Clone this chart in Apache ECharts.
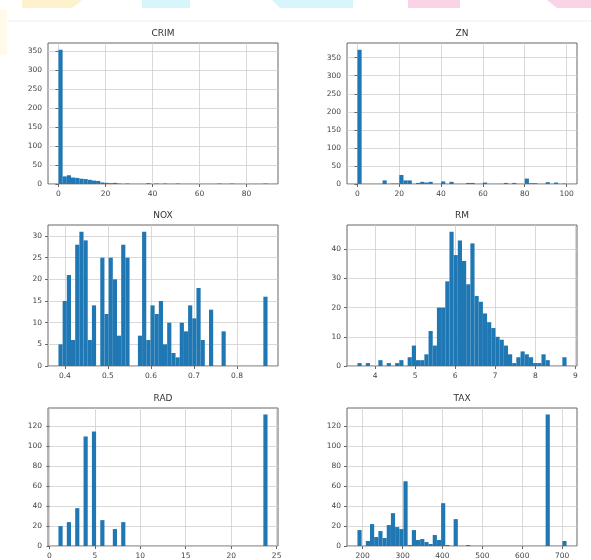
<!DOCTYPE html>
<html>
<head>
<meta charset="utf-8">
<script src="https://cdn.jsdelivr.net/npm/echarts@6/dist/echarts.min.js"></script>
<style>
  html, body { margin: 0; padding: 0; background: #fff; }
  #chart { width: 591px; height: 560px; }
</style>
</head>
<body>
<div id="chart"></div>
<script>
// panel names, in grid order (row by row)
const titles = ['CRIM', 'ZN', 'NOX', 'RM', 'RAD', 'TAX'];

// data min / max of each column (bins are 50 equal steps between them)
const crimRange = [0.00632, 88.9762];
const znRange = [0, 100];
const noxRange = [0.385, 0.871];
const rmRange = [3.561, 8.78];
const radRange = [1, 24];
const taxRange = [187, 711];

// bin counts, 50 bins each
const crimCounts = [353, 20, 23, 17, 16, 14, 13, 11, 9, 8, 4, 3, 2, 3, 1, 0, 1, 0, 0, 0,
  0, 2, 0, 1, 0, 1, 0, 0, 1, 0, 0, 0, 0, 0, 0, 0, 0, 0, 1, 0, 0, 1, 0, 0, 0, 0, 0, 0, 0, 1];
const znCounts = [372, 0, 0, 0, 0, 0, 10, 0, 1, 1, 25, 10, 10, 0, 3, 6, 4, 6, 0, 0,
  7, 0, 6, 0, 0, 0, 3, 3, 0, 0, 4, 0, 0, 0, 0, 3, 0, 3, 0, 0, 15, 2, 2, 0, 0, 5, 0, 4, 0, 1];
const noxCounts = [5, 15, 21, 6, 28, 31, 29, 6, 14, 0, 25, 12, 25, 20, 7, 28, 25, 0, 0, 7,
  31, 6, 14, 12, 15, 5, 10, 3, 2, 10, 8, 14, 11, 18, 6, 0, 13, 0, 0, 8, 0, 0, 0, 0, 0, 0, 0, 0, 0, 16];
const rmCounts = [1, 0, 1, 0, 0, 2, 0, 1, 0, 1, 2, 0, 3, 7, 2, 2, 4, 12, 7, 20,
  20, 29, 46, 38, 43, 36, 28, 42, 24, 22, 18, 15, 13, 10, 9, 7, 4, 1, 3, 5, 4, 3, 1, 1, 4, 2, 0, 0, 0, 3];
const radCounts = [20, 0, 24, 0, 38, 0, 110, 0, 115, 0, 26, 0, 0, 17, 0, 24, 0, 0, 0, 0,
  0, 0, 0, 0, 0, 0, 0, 0, 0, 0, 0, 0, 0, 0, 0, 0, 0, 0, 0, 0, 0, 0, 0, 0, 0, 0, 0, 0, 0, 132];
const taxCounts = [16, 0, 5, 22, 9, 15, 8, 21, 33, 19, 17, 65, 1, 16, 6, 7, 4, 2, 11, 6,
  43, 1, 0, 27, 0, 0, 1, 0, 0, 0, 0, 0, 0, 0, 0, 0, 0, 0, 0, 0, 0, 0, 0, 0, 0, 132, 0, 0, 0, 5];

// tick labels
const crimXTicks = [0, 20, 40, 60, 80];
const znXTicks = [0, 20, 40, 60, 80, 100];
const noxXTicks = [0.4, 0.5, 0.6, 0.7, 0.8];
const rmXTicks = [4, 5, 6, 7, 8, 9];
const radXTicks = [0, 5, 10, 15, 20, 25];
const taxXTicks = [200, 300, 400, 500, 600, 700];
const crimYTicks = [0, 50, 100, 150, 200, 250, 300, 350];
const znYTicks = [0, 50, 100, 150, 200, 250, 300, 350];
const noxYTicks = [0, 5, 10, 15, 20, 25, 30];
const rmYTicks = [0, 10, 20, 30, 40];
const radYTicks = [0, 20, 40, 60, 80, 100, 120];
const taxYTicks = [0, 20, 40, 60, 80, 100, 120];

const panels = [
  [crimRange, crimCounts, crimXTicks, crimYTicks],
  [znRange, znCounts, znXTicks, znYTicks],
  [noxRange, noxCounts, noxXTicks, noxYTicks],
  [rmRange, rmCounts, rmXTicks, rmYTicks],
  [radRange, radCounts, radXTicks, radYTicks],
  [taxRange, taxCounts, taxXTicks, taxYTicks]
];

const lefts = [48, 347];
const tops = [43, 225, 408];
const W = 230, H = 141;
const FONT = 'DejaVu Sans';

const grid = [], xAxis = [], yAxis = [], series = [], title = [];

panels.forEach(([range, counts, xt, yt], i) => {
  const left = lefts[i % 2], top = tops[Math.floor(i / 2)];
  const span = range[1] - range[0];
  const step = span / counts.length;

  grid.push({ left, top, width: W, height: H, show: true, borderColor: '#666', borderWidth: 1 });
  title.push({
    text: titles[i], left: left + W / 2, top: top - 14, textAlign: 'center', padding: 0,
    textStyle: { fontFamily: FONT, fontSize: 9, fontWeight: 'normal', color: '#333' }
  });

  xAxis.push({
    type: 'value', gridIndex: i,
    min: range[0] - span * 0.05, max: range[1] + span * 0.05,
    axisLine: { show: false },
    axisTick: { show: true, length: 3, customValues: xt, lineStyle: { color: '#666' } },
    axisLabel: { customValues: xt, margin: 6, fontFamily: FONT, fontSize: 7.5, color: '#444' },
    splitLine: { show: true, lineStyle: { color: '#cfcfcf', width: 0.8 } }
  });
  yAxis.push({
    type: 'value', gridIndex: i,
    min: 0, max: Math.max(...counts) * 1.05,
    axisLine: { show: false },
    axisTick: { show: true, length: 3, customValues: yt, lineStyle: { color: '#666' } },
    axisLabel: { customValues: yt, margin: 6, fontFamily: FONT, fontSize: 7.5, color: '#444' },
    splitLine: { show: true, lineStyle: { color: '#cfcfcf', width: 0.8 } }
  });

  series.push({
    type: 'custom', xAxisIndex: i, yAxisIndex: i,
    encode: { x: [0, 1], y: 2 },
    data: counts.map((c, k) => [range[0] + k * step, range[0] + (k + 1) * step, c]),
    renderItem: (params, api) => {
      if (!api.value(2)) return null;
      const p0 = api.coord([api.value(0), api.value(2)]);
      const p1 = api.coord([api.value(1), 0]);
      return {
        type: 'rect',
        shape: { x: p0[0], y: p0[1], width: p1[0] - p0[0], height: p1[1] - p0[1] },
        style: { fill: '#1f77b4' }
      };
    }
  });
});

const chart = echarts.init(document.getElementById('chart'), null, { renderer: 'canvas' });
chart.setOption({
  animation: false,
  backgroundColor: '#fff',
  title, grid, xAxis, yAxis, series,
  graphic: [
    // faint decorations along the top edge of the source picture
    { type: 'polygon', shape: { points: [[22, 0], [82, 0], [72, 8], [22, 8]] }, style: { fill: '#fdf2cc' }, silent: true },
    { type: 'rect', shape: { x: 0, y: 10, width: 7, height: 45 }, style: { fill: '#fffaea' }, silent: true },
    { type: 'rect', shape: { x: 142, y: 0, width: 48, height: 8 }, style: { fill: '#d6f6fb' }, silent: true },
    { type: 'polygon', shape: { points: [[272, 0], [353, 0], [353, 8], [280, 8]] }, style: { fill: '#d6f6fb' }, silent: true },
    { type: 'rect', shape: { x: 408, y: 0, width: 52, height: 8 }, style: { fill: '#fbd3e6' }, silent: true },
    { type: 'polygon', shape: { points: [[547, 0], [591, 0], [591, 8], [557, 8]] }, style: { fill: '#fbd3e6' }, silent: true },
    { type: 'line', shape: { x1: 8, y1: 21, x2: 591, y2: 21 }, style: { stroke: '#eeeeee', lineWidth: 1 }, silent: true }
  ]
});
</script>
</body>
</html>
